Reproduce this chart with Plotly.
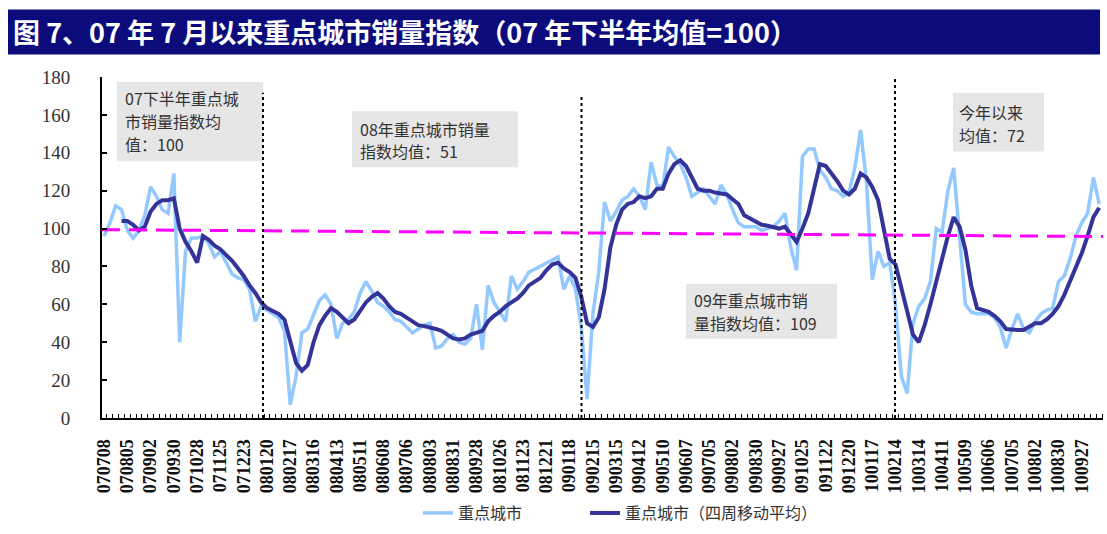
import plotly.graph_objects as go

# ---- data -------------------------------------------------------------
# weekly sales index of key cities (H2 2007 average = 100), one value per week
weekly_index = [
    96, 103, 112, 110, 99, 95, 99, 107, 122, 117,
    110, 108, 129, 40, 88, 95, 95, 96, 92, 85,
    88, 82, 76, 74, 73, 68, 51, 59, 57, 55,
    53, 46, 7, 22, 45, 47, 55, 62, 65, 60,
    42, 50, 52, 56, 66, 72, 67, 61, 59, 56,
    52, 51, 48, 45, 47, 49, 50, 37, 38, 42,
    44, 40, 39, 42, 60, 36, 70, 61, 56, 51,
    75, 68, 72, 77, 78.5, 80, 82, 83, 85, 68,
    75, 68, 48, 10, 55, 77, 114, 104, 109, 115,
    117, 121, 117, 110, 135, 123, 122, 143, 138, 134,
    127, 117, 119, 121, 117, 113, 123, 118, 110, 103,
    101, 101, 101, 99, 100, 101, 104, 108, 90, 78,
    138, 142, 142, 131, 127, 121, 120, 117, 119, 132,
    152, 125, 73, 88, 80, 82, 60, 22, 13, 50,
    59, 63, 72, 100, 98, 120, 132, 97, 60, 56,
    55, 55, 55, 53, 48, 37, 47, 55, 47, 45,
    51, 55, 57, 58, 72, 75, 84, 96, 103, 108,
    127, 113,
]

# four-week moving average (first value available in week 4)
moving_avg = [
    104, 104, 102, 99, 101, 109, 113, 115, 115, 116,
    100, 93, 88, 82, 96, 94, 91, 89, 86, 83,
    79, 75, 70, 66, 61, 58, 56.5, 55, 52, 40,
    29, 25, 28, 40, 49, 54, 58, 56, 53, 50,
    52, 57, 61, 64, 66, 63, 59, 56, 55, 53,
    51, 49, 48.5, 48, 47, 46, 44, 42, 41.5, 42,
    44, 45, 46, 51, 54, 56, 59, 61, 63, 66,
    70, 72, 74, 78, 81, 82, 79, 77, 74, 64,
    50, 48, 53, 68, 90, 102, 110, 113, 114, 117,
    116, 117, 121, 121, 129, 134, 136, 133, 127, 121,
    120, 120, 119, 118.5, 118, 115.5, 113, 107, 105.5, 104,
    102, 101.5, 101, 100, 101, 97, 93, 100, 108, 121,
    134, 133, 129, 125, 120, 118, 121, 129, 127, 122,
    115, 99, 84, 81, 69, 55, 44, 40, 49, 60,
    72, 85, 96, 106, 101, 89, 70, 58, 57, 56,
    54, 51, 47, 46.5, 46.5, 46.5, 48, 50, 50, 52,
    55, 59, 65, 72, 79, 87, 96, 106, 111,
]

# week labels shown every fourth week
week_labels = [
    "070708", "070805", "070902", "070930", "071028", "071125", "071223",
    "080120", "080217", "080316", "080413", "080511", "080608", "080706",
    "080803", "080831", "080928", "081026", "081123", "081221",
    "090118", "090215", "090315", "090412", "090510", "090607", "090705",
    "090802", "090830", "090927", "091025", "091122", "091220",
    "100117", "100214", "100314", "100411", "100509", "100606", "100705",
    "100802", "100830", "100927",
]

# reference level line (start / end)
ref_level = [99.4, 95.8]

series_names = ["重点城市", "重点城市（四周移动平均）"]

# ---- layout geometry ----------------------------------------------------
W, H = 1107, 534
ML, MR, MT, MB = 102, 4, 77, 109
PW, PH = W - ML - MR, H - MT - MB


def fx(px):
    return (px - ML) / PW


def fy(py):
    return (H - MB - py) / PH


n_weeks = len(weekly_index)
weeks = list(range(n_weeks))
x_lo, x_hi = -0.35, n_weeks - 0.35

fig = go.Figure()

fig.add_trace(go.Scatter(
    x=weeks, y=weekly_index, mode="lines", name=series_names[0],
    legend="legend",
    line=dict(color="#93c9ff", width=3.5),
))
fig.add_trace(go.Scatter(
    x=weeks[n_weeks - len(moving_avg):], y=moving_avg, mode="lines",
    name=series_names[1], legend="legend2",
    line=dict(color="#333399", width=4),
))
fig.add_trace(go.Scatter(
    x=[x_lo, x_hi], y=ref_level, mode="lines", showlegend=False,
    hoverinfo="skip",
    line=dict(color="#ff00ff", width=3, dash="18px,9px"),
))

shapes = []
annotations = []

# title bar
shapes.append(dict(type="rect", xref="paper", yref="paper",
                   x0=fx(8), x1=fx(1100), y0=fy(54), y1=fy(8),
                   fillcolor="#0b0b7c", line=dict(width=0)))
annotations.append(dict(
    text="<b>图 7、07 年 7 月以来重点城市销量指数（07 年下半年均值=100）</b>",
    xref="paper", yref="paper", x=fx(11), y=fy(31),
    xanchor="left", yanchor="middle", showarrow=False,
    font=dict(family="Noto Sans CJK SC", size=27, color="white"),
))

# year separators
for px, top in [(263, 93), (581.5, 95), (895, 78)]:
    shapes.append(dict(type="line", xref="paper", yref="paper",
                       x0=fx(px), x1=fx(px), y0=fy(425), y1=fy(top),
                       line=dict(color="black", width=2, dash="dot")))

# grey note boxes with their text lines
notes = [
    ((117, 263, 82, 163), 123, [(98, "07下半年重点城"), (122, "市销量指数均"), (145, "值：100")]),
    ((352, 518, 112, 169), 358, [(130, "08年重点城市销量"), (153, "指数均值：51")]),
    ((686, 837, 288, 344), 692, [(305, "09年重点城市销"), (328, "量指数均值：109")]),
    ((953, 1044, 93, 153), 957, [(113, "今年以来"), (136, "均值：72")]),
]
for (bx0, bx1, by0, by1), tx, lines in notes:
    shapes.append(dict(type="rect", xref="paper", yref="paper", layer="below",
                       x0=fx(bx0), x1=fx(bx1), y0=fy(by1), y1=fy(by0),
                       fillcolor="#e6e6e6", line=dict(width=0)))
    for ty, txt in lines:
        annotations.append(dict(
            text=txt, xref="paper", yref="paper", x=fx(tx), y=fy(ty),
            xanchor="left", yanchor="middle", showarrow=False,
            font=dict(family="Noto Sans CJK SC", size=16, color="#333333"),
        ))

legend_font = dict(family="Noto Sans CJK SC", size=16, color="#333333")

fig.update_layout(
    width=W, height=H,
    margin=dict(l=ML, r=MR, t=MT, b=MB, pad=0),
    paper_bgcolor="white", plot_bgcolor="white",
    shapes=shapes, annotations=annotations,
    showlegend=True,
    legend=dict(
        orientation="h", x=fx(418), xanchor="left", y=fy(522), yanchor="middle",
        font=legend_font, bgcolor="rgba(0,0,0,0)",
    ),
    legend2=dict(
        orientation="h", x=fx(585), xanchor="left", y=fy(522), yanchor="middle",
        font=legend_font, bgcolor="rgba(0,0,0,0)",
    ),
    xaxis=dict(
        range=[x_lo, x_hi], showgrid=False, zeroline=False,
        showline=True, linecolor="black", linewidth=2,
        tickmode="array", tickvals=list(range(0, 4 * len(week_labels), 4)),
        ticktext=week_labels, tickangle=-90, ticks="",
        ticklabelstandoff=12,
        tickfont=dict(family="Liberation Serif", size=18, color="#111111",
                      weight="bold"),
        minor=dict(tickmode="linear", tick0=-0.5, dtick=1, ticks="inside",
                   ticklen=4, tickwidth=1, tickcolor="black"),
    ),
    yaxis=dict(
        range=[0, 180], tickmode="linear", tick0=0, dtick=20,
        showgrid=False, zeroline=False,
        showline=True, linecolor="black", linewidth=2,
        ticks="inside", ticklen=5, tickwidth=2, tickcolor="black",
        ticklabelstandoff=26,
        tickfont=dict(family="Liberation Serif", size=19, color="#333333"),
    ),
)

fig.write_html("out.html")
